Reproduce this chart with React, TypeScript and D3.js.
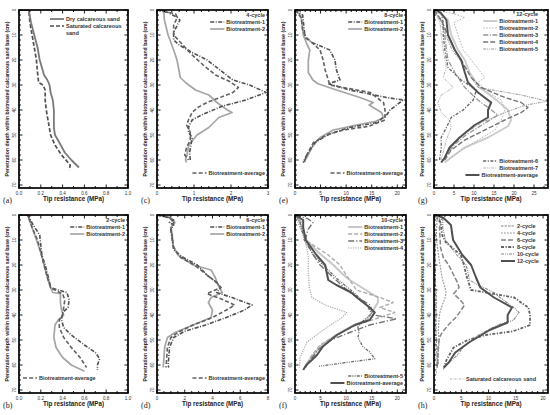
import * as d3 from 'd3';

// each point is [tip resistance (MPa), penetration depth (cm)]
type Pt = [number, number];

// (a) untreated sand
const dryCalc: Pt[] = [[0, 0], [0.09, 0], [0.11, 5], [0.14, 10], [0.17, 15], [0.19, 20], [0.21, 23], [0.23, 26], [0.26, 28], [0.28, 30], [0.29, 33], [0.31, 36], [0.32, 40], [0.32, 47], [0.33, 50], [0.37, 53], [0.42, 57], [0.48, 60], [0.55, 63]];
const satCalc: Pt[] = [[0, 0], [0.09, 0], [0.1, 5], [0.12, 10], [0.14, 15], [0.16, 20], [0.17, 25], [0.18, 29], [0.22, 30], [0.24, 32], [0.24, 36], [0.25, 40], [0.27, 45], [0.29, 50], [0.33, 54], [0.39, 58], [0.45, 61], [0.47, 62], [0.46, 64]];

// (b) 2-cycle
const c2Bio1: Pt[] = [[0, 0], [0.08, 0], [0.13, 4], [0.19, 8], [0.2, 12], [0.21, 16], [0.24, 20], [0.27, 25], [0.29, 29], [0.36, 30], [0.44, 31], [0.46, 34], [0.45, 37], [0.4, 39], [0.39, 42], [0.41, 45], [0.48, 48], [0.6, 52], [0.7, 55], [0.74, 57.5], [0.72, 60], [0.72, 62]];
const c2Bio2: Pt[] = [[0, 0], [0.08, 0], [0.12, 5], [0.16, 10], [0.2, 15], [0.23, 20], [0.26, 25], [0.29, 29], [0.31, 31], [0.38, 31.5], [0.38, 35], [0.39, 38], [0.41, 40], [0.36, 42], [0.33, 44], [0.32, 49], [0.34, 53], [0.4, 57], [0.48, 60], [0.6, 62.5]];
const c2Avg: Pt[] = [[0, 0], [0.08, 0], [0.12, 5], [0.17, 10], [0.2, 15], [0.23, 20], [0.26, 25], [0.29, 29], [0.35, 30.5], [0.4, 31.5], [0.42, 34], [0.41, 37], [0.4, 40], [0.37, 42], [0.37, 45], [0.41, 49], [0.48, 53], [0.56, 57], [0.62, 61]];

// (c) 4-cycle
const c4Bio1: Pt[] = [[0, 0], [0.3, 1], [0.55, 3], [0.62, 4], [0.55, 6], [0.45, 9], [0.45, 12], [0.6, 14], [0.95, 17], [1.36, 20], [1.7, 24], [2.05, 28], [2.5, 30], [2.95, 33], [2.4, 36], [1.76, 38.5], [1.2, 42], [0.95, 44], [0.86, 46.5], [0.85, 49], [0.95, 51], [0.92, 54], [0.88, 57], [0.9, 60]];
const c4Bio2: Pt[] = [[0, 0], [0.18, 0], [0.2, 4], [0.3, 10], [0.45, 16], [0.54, 20], [0.63, 27], [0.77, 29], [1.04, 32], [1.4, 34], [1.62, 37], [1.9, 40], [2.03, 41], [1.67, 43], [1.4, 47], [1.08, 50], [0.86, 54], [0.81, 58], [0.77, 60], [0.8, 61]];
const c4Avg: Pt[] = [[0, 0], [0.5, 1.5], [0.55, 3], [0.45, 6], [0.45, 10], [0.7, 14], [0.95, 18], [1.25, 22], [1.58, 26], [1.95, 28.5], [2.2, 31], [2.05, 33], [1.7, 35], [1.35, 37], [1.1, 39], [0.95, 41], [0.85, 44], [0.8, 46], [0.9, 49], [0.9, 52], [0.8, 55], [0.75, 58], [0.85, 60]];

// (d) 6-cycle
const c6Bio1: Pt[] = [[0, 0], [0.8, 1], [1.2, 2], [0.9, 3], [1.2, 4], [1.0, 6], [1.1, 10], [1.2, 14], [1.9, 17], [2.9, 20], [3.6, 24], [4.3, 27], [4.6, 29], [4.3, 31], [5.4, 33], [6.85, 36], [6.3, 38], [5.0, 41], [3.5, 44], [2.0, 46.5], [1.2, 49], [0.9, 53], [0.85, 57], [0.8, 60], [0.85, 61]];
const c6Bio2: Pt[] = [[0, 0], [1.0, 1], [1.3, 3], [1.0, 5], [1.1, 8], [1.15, 12], [1.5, 16], [2.6, 20], [3.9, 22], [4.2, 25], [4.4, 28], [4.7, 31], [3.9, 33], [3.7, 35], [4.0, 38], [3.9, 41], [2.6, 44], [1.3, 47], [0.75, 49], [0.55, 53], [0.5, 57], [0.45, 61]];
const c6Avg: Pt[] = [[0, 0], [0.9, 1], [1.2, 3], [1.0, 5], [1.1, 9], [1.2, 13], [1.7, 17], [2.7, 20], [3.6, 24], [4.3, 27], [4.6, 29], [3.6, 31.5], [4.6, 33.5], [5.6, 36], [5.0, 38], [4.0, 41], [2.6, 44], [1.5, 47], [1.0, 49], [0.75, 53], [0.7, 57], [0.65, 61]];

// (e) 8-cycle
const c8Bio1: Pt[] = [[0, 0], [1.5, 2], [1.6, 4], [1.8, 8], [2.0, 11], [3.3, 13], [6.8, 16], [7.8, 20], [8.1, 24], [8.8, 28], [6.5, 29.5], [9.0, 31], [10.7, 32], [17.9, 35], [21.2, 36], [20.5, 37], [18.6, 40], [17.9, 42], [16.0, 45], [10.7, 47], [6.8, 49.5], [3.9, 53], [2.3, 58], [1.6, 61]];
const c8Bio2: Pt[] = [[0, 0], [1.0, 2], [1.3, 4], [1.6, 10], [2.4, 14], [2.9, 16], [2.6, 20], [2.6, 25], [3.5, 28], [4.5, 29.5], [8.1, 32], [12.7, 35], [15.3, 37], [14.5, 38], [16.9, 41], [17.3, 43], [15.8, 44.5], [12.0, 46], [7.5, 48], [4.9, 51], [3.3, 55], [2.3, 59], [1.6, 61]];
const c8Avg: Pt[] = [[0, 0], [1.2, 3], [1.5, 8], [2.2, 11], [3.3, 13], [4.9, 16], [5.5, 20], [5.9, 24], [6.5, 28], [6.8, 30], [14.7, 33], [16.6, 36], [17.3, 37], [17.6, 40], [17.6, 44], [14.5, 46.5], [9.5, 48], [6.2, 50], [3.6, 53], [2.3, 58], [1.8, 61]];

// (f) 10-cycle
const c10Bio1: Pt[] = [[0, 0], [0.8, 2], [1.3, 5], [2.2, 10], [4.6, 15], [7.5, 20], [9.5, 24], [10.7, 26], [14.6, 31], [16.2, 33], [16.2, 35], [15.2, 38.5], [14.0, 42], [11.0, 44.5], [8.0, 48], [5.2, 52], [3.5, 56], [2.5, 59], [2.0, 61]];
const c10Bio2: Pt[] = [[0, 0], [1.3, 3], [2.0, 10], [6.5, 16], [8.8, 20], [10.0, 24], [12.0, 30], [16.6, 33], [19.2, 35], [16.6, 37], [19.5, 39], [16.6, 41], [12.0, 44], [8.1, 48], [4.9, 52], [3.0, 57], [1.9, 61]];
const c10Bio3: Pt[] = [[0, 0], [2.5, 1.5], [3.5, 3], [2.5, 6], [2.0, 10], [3.6, 16], [4.9, 20], [7.5, 25], [10.7, 31], [14.7, 36], [15.3, 40], [19.9, 41.5], [14.6, 44], [10.7, 47], [7.0, 50], [4.5, 54], [3.0, 58], [2.0, 61]];
const c10Bio4: Pt[] = [[0, 0], [0.8, 4], [2.0, 10], [2.6, 16], [2.6, 22], [2.8, 29], [3.3, 33], [5.9, 36], [10.1, 39], [9.2, 41], [6.2, 45], [4.2, 48], [2.3, 51], [1.0, 57], [0.9, 61]];
const c10Bio5: Pt[] = [[0, 0], [1.0, 3], [1.8, 10], [3.6, 16], [5.5, 20], [8.5, 26], [11.5, 31], [14.0, 36], [15.0, 39.5], [13.5, 42], [12.3, 44.7], [12.5, 47], [12.3, 49], [13.3, 52.8], [14.6, 54.8], [15.6, 57.5], [10.0, 59], [4.7, 60.5]];
const c10Avg: Pt[] = [[0, 0], [1.6, 2], [1.6, 5], [2.1, 10], [4.2, 16], [5.9, 20], [6.5, 26], [8.1, 28], [11.0, 31], [12.1, 33], [14.6, 37], [15.6, 39], [14.6, 42], [11.7, 44], [8.2, 48], [5.5, 52.5], [4.3, 56], [3.3, 58], [2.2, 60], [1.6, 62]];

// (g) 12-cycle
const c12Bio1: Pt[] = [[0, 0], [2.0, 2], [3.5, 4], [4.3, 10], [6.0, 16], [7.7, 20], [8.9, 25], [11.4, 31], [15.6, 36], [18.5, 40], [19.3, 44], [18.5, 46.5], [13.5, 51], [7.7, 55], [4.3, 59], [2.7, 61]];
const c12Bio2: Pt[] = [[0, 0], [5.0, 1.5], [7.7, 3], [5.0, 5], [6.0, 10], [7.3, 16], [9.3, 20], [12.7, 27], [11.0, 29], [13.5, 33], [16.8, 36], [17.7, 40], [16.8, 44], [15.2, 48], [11.0, 52], [6.8, 56], [3.5, 60]];
const c12Bio3: Pt[] = [[0, 0], [2.0, 5], [2.7, 10], [3.1, 16], [3.5, 20], [5.2, 25], [7.7, 31], [11.0, 36], [14.3, 40], [16.0, 42], [12.0, 46], [8.0, 50], [5.0, 54], [3.0, 58], [2.2, 61]];
const c12Bio4: Pt[] = [[0, 0], [1.8, 4], [3.5, 10], [5.2, 16], [6.8, 20], [9.3, 27], [11.8, 31], [17.7, 35], [21.8, 37], [23.5, 39], [21.8, 41], [17.7, 44], [12.7, 48], [7.7, 52], [4.3, 56], [2.7, 60]];
const c12Bio5: Pt[] = [[0, 0], [2.2, 5], [3.0, 10], [4.5, 16], [6.5, 20], [8.5, 25], [11.0, 31], [21.8, 34], [28.4, 36.5], [23.0, 38], [17.7, 41], [12.0, 45], [7.0, 50], [4.0, 55], [2.5, 60]];
const c12Bio6: Pt[] = [[0, 0], [1.8, 1.3], [2.3, 5], [2.3, 10], [2.7, 16], [3.5, 23], [6.8, 28], [10.6, 32], [9.8, 36], [7.3, 40], [4.3, 43], [3.1, 47], [1.8, 51], [1.8, 55], [1.4, 60]];
const c12Bio7: Pt[] = [[0, 0], [1.5, 5], [1.8, 10], [2.3, 16], [3.1, 23], [2.3, 27], [4.8, 31], [1.8, 34], [1.0, 37], [1.8, 41], [3.9, 44], [4.3, 47], [3.1, 52], [1.8, 60]];
const c12Avg: Pt[] = [[0, 0], [0.6, 0], [1.8, 1.3], [3.1, 4], [3.5, 10], [5.2, 16], [6.8, 20], [7.7, 25], [8.5, 29], [11.0, 33], [14.3, 37], [13.5, 40], [13.5, 43], [10.2, 46], [6.4, 51], [3.9, 55], [2.7, 59], [1.8, 61]];

const depthTicks = [0, 10, 20, 30, 40, 50, 60, 70];
const yTitle = 'Penetration depth within biotreated calcareous sand base (cm)';
const xTitle = 'Tip resistance (MPa)';

type Style = { stroke: string; width: number; dash?: string };
const st = {
  dry: { stroke: '#7a7a7a', width: 1.8 },
  sat: { stroke: '#505050', width: 1.7, dash: '4,2' },
  b1: { stroke: '#505050', width: 1.6, dash: '4,1.5,1,1.5' },
  b2: { stroke: '#a5a5a5', width: 1.7 },
  bAvg: { stroke: '#606060', width: 1.6, dash: '4,2.2' },
  f1: { stroke: '#c6c6c6', width: 1.9 },
  f2: { stroke: '#adadad', width: 1.4, dash: '4,2' },
  f3: { stroke: '#737373', width: 1.4, dash: '6,2,1.2,2' },
  f4: { stroke: '#a8a8a8', width: 1.2, dash: '1.2,1.2' },
  f5: { stroke: '#6c6c6c', width: 1.3, dash: '3,1.2,1,1.2,1,1.2' },
  avgSolid: { stroke: '#505050', width: 2 },
  g1: { stroke: '#cdcdcd', width: 2 },
  g2: { stroke: '#b2b2b2', width: 1, dash: '1.5,1.5' },
  g3: { stroke: '#959595', width: 1.3, dash: '5,1.5,1.2,1.5' },
  g4: { stroke: '#757575', width: 1.4, dash: '5,2' },
  g5: { stroke: '#969696', width: 1, dash: '3,1,1,1,1,1' },
  g6: { stroke: '#656565', width: 1.3, dash: '3,1.5,1.2,1.5' },
  g7: { stroke: '#b5b5b5', width: 1, dash: '3,1,1,1,1,1' },
  h2: { stroke: '#858585', width: 1.1, dash: '2.5,1' },
  h4: { stroke: '#969696', width: 1.1, dash: '1.8,1.2' },
  h6: { stroke: '#858585', width: 1.5, dash: '5,2' },
  h8: { stroke: '#626262', width: 1.8, dash: '3,1.5,1.2,1.5' },
  h10: { stroke: '#858585', width: 1.1, dash: '3,1,1,1,1,1' },
  hSat: { stroke: '#a8a8a8', width: 0.9, dash: '2,1,0.6,1' },
};

type Item = { text: string; style?: Style };
type Legend = { x: number; anchor: 'start' | 'end'; y: number; items: Item[] };
type Panel = {
  tag: string; left: number; right: number; top: number; xMax: number;
  xTicks: number[]; xMinor: number; fmt: (v: number) => string;
  series: { data: Pt[]; style: Style }[]; legends: Legend[];
};

const TOP = [10, 215];
const H = 178;

const panels: Panel[] = [
  {
    tag: '(a)', left: 19, right: 128, top: TOP[0], xMax: 1, xTicks: [0, 0.2, 0.4, 0.6, 0.8, 1], xMinor: 0.1, fmt: d3.format('.1f'),
    series: [{ data: satCalc, style: st.sat }, { data: dryCalc, style: st.dry }],
    legends: [{ x: 66, anchor: 'start', y: 19, items: [{ text: 'Dry calcareous sand', style: st.dry }, { text: 'Saturated calcareous', style: st.sat }, { text: 'sand' }] }],
  },
  {
    tag: '(b)', left: 19, right: 128, top: TOP[1], xMax: 1, xTicks: [0, 0.2, 0.4, 0.6, 0.8, 1], xMinor: 0.1, fmt: d3.format('.1f'),
    series: [{ data: c2Bio2, style: st.b2 }, { data: c2Bio1, style: st.b1 }, { data: c2Avg, style: st.bAvg }],
    legends: [
      { x: 125, anchor: 'end', y: 220, items: [{ text: '2-cycle' }, { text: 'Biotreatment-1', style: st.b1 }, { text: 'Biotreatment-2', style: st.b2 }] },
      { x: 39, anchor: 'start', y: 378, items: [{ text: 'Biotreatment-average', style: st.bAvg }] },
    ],
  },
  {
    tag: '(c)', left: 157, right: 268, top: TOP[0], xMax: 3, xTicks: [0, 1, 2, 3], xMinor: 0.2, fmt: d3.format('d'),
    series: [{ data: c4Bio2, style: st.b2 }, { data: c4Bio1, style: st.b1 }, { data: c4Avg, style: st.bAvg }],
    legends: [
      { x: 265, anchor: 'end', y: 15, items: [{ text: '4-cycle' }, { text: 'Biotreatment-1', style: st.b1 }, { text: 'Biotreatment-2', style: st.b2 }] },
      { x: 265, anchor: 'end', y: 173, items: [{ text: 'Biotreatment-average', style: st.bAvg }] },
    ],
  },
  {
    tag: '(d)', left: 157, right: 268, top: TOP[1], xMax: 8, xTicks: [0, 2, 4, 6, 8], xMinor: 0.5, fmt: d3.format('d'),
    series: [{ data: c6Bio2, style: st.b2 }, { data: c6Bio1, style: st.b1 }, { data: c6Avg, style: st.bAvg }],
    legends: [
      { x: 265, anchor: 'end', y: 220, items: [{ text: '6-cycle' }, { text: 'Biotreatment-1', style: st.b1 }, { text: 'Biotreatment-2', style: st.b2 }] },
      { x: 265, anchor: 'end', y: 378, items: [{ text: 'Biotreatment-average', style: st.bAvg }] },
    ],
  },
  {
    tag: '(e)', left: 295, right: 406, top: TOP[0], xMax: 21.7, xTicks: [0, 5, 10, 15, 20], xMinor: 1, fmt: d3.format('d'),
    series: [{ data: c8Bio2, style: st.b2 }, { data: c8Bio1, style: st.b1 }, { data: c8Avg, style: st.bAvg }],
    legends: [
      { x: 403, anchor: 'end', y: 15, items: [{ text: '8-cycle' }, { text: 'Biotreatment-1', style: st.b1 }, { text: 'Biotreatment-2', style: st.b2 }] },
      { x: 403, anchor: 'end', y: 173, items: [{ text: 'Biotreatment-average', style: st.bAvg }] },
    ],
  },
  {
    tag: '(f)', left: 295, right: 406, top: TOP[1], xMax: 21.7, xTicks: [0, 5, 10, 15, 20], xMinor: 1, fmt: d3.format('d'),
    series: [
      { data: c10Bio4, style: st.f4 }, { data: c10Bio1, style: st.f1 }, { data: c10Bio2, style: st.f2 },
      { data: c10Bio3, style: st.f3 }, { data: c10Bio5, style: st.f5 }, { data: c10Avg, style: st.avgSolid },
    ],
    legends: [
      { x: 403, anchor: 'end', y: 220, items: [{ text: '10-cycle' }, { text: 'Biotreatment-1', style: st.f1 }, { text: 'Biotreatment-2', style: st.f2 }, { text: 'Biotreatment-3', style: st.f3 }, { text: 'Biotreatment-4', style: st.f4 }] },
      { x: 403, anchor: 'end', y: 376, items: [{ text: 'Biotreatment-5', style: st.f5 }, { text: 'Biotreatment-average', style: st.avgSolid }] },
    ],
  },
  {
    tag: '(g)', left: 434, right: 548, top: TOP[0], xMax: 28.5, xTicks: [0, 5, 10, 15, 20, 25], xMinor: 2.5, fmt: d3.format('d'),
    series: [
      { data: c12Bio7, style: st.g7 }, { data: c12Bio1, style: st.g1 }, { data: c12Bio2, style: st.g2 }, { data: c12Bio5, style: st.g5 },
      { data: c12Bio3, style: st.g3 }, { data: c12Bio4, style: st.g4 }, { data: c12Bio6, style: st.g6 }, { data: c12Avg, style: st.avgSolid },
    ],
    legends: [
      { x: 538, anchor: 'end', y: 14, items: [{ text: '12-cycle' }, { text: 'Biotreatment-1', style: st.g1 }, { text: 'Biotreatment-2', style: st.g2 }, { text: 'Biotreatment-3', style: st.g3 }, { text: 'Biotreatment-4', style: st.g4 }, { text: 'Biotreatment-5', style: st.g5 }] },
      { x: 538, anchor: 'end', y: 161, items: [{ text: 'Biotreatment-6', style: st.g6 }, { text: 'Biotreatment-7', style: st.g7 }, { text: 'Biotreatment-average', style: st.avgSolid }] },
    ],
  },
  {
    tag: '(h)', left: 434, right: 548, top: TOP[1], xMax: 20.9, xTicks: [0, 5, 10, 15, 20], xMinor: 1, fmt: d3.format('d'),
    series: [
      { data: satCalc, style: st.hSat }, { data: c2Avg, style: st.h2 }, { data: c4Avg, style: st.h4 }, { data: c6Avg, style: st.h6 },
      { data: c10Avg, style: st.h10 }, { data: c8Avg, style: st.h8 }, { data: c12Avg, style: st.avgSolid },
    ],
    legends: [
      { x: 517, anchor: 'start', y: 226, items: [{ text: '2-cycle', style: st.h2 }, { text: '4-cycle', style: st.h4 }, { text: '6-cycle', style: st.h6 }, { text: '8-cycle', style: st.h8 }, { text: '10-cycle', style: st.h10 }, { text: '12-cycle', style: st.avgSolid }] },
      { x: 466, anchor: 'start', y: 379, items: [{ text: 'Saturated calcareous sand', style: st.hSat }] },
    ],
  },
];

const SANS = 'Liberation Sans, Arial, sans-serif';
const LEG_FONT = 5.5;

let ctx: CanvasRenderingContext2D | null = null;
function textWidth(t: string) {
  if (!ctx) ctx = document.createElement('canvas').getContext('2d');
  if (!ctx) return t.length * 3;
  ctx.font = `bold ${LEG_FONT}px "Liberation Sans", Arial, sans-serif`;
  return ctx.measureText(t).width;
}

function PanelChart({ p }: { p: Panel }) {
  const bottom = p.top + H;
  const x = d3.scaleLinear().domain([0, p.xMax]).range([p.left, p.right]);
  const y = d3.scaleLinear().domain([0, 71.2]).range([p.top, bottom]);
  const line = d3.line<Pt>().x(d => x(d[0])).y(d => y(d[1]));
  const clipId = 'clip' + p.tag.replace(/\W/g, '');
  const xMinorTicks = d3.range(0, p.xMax + 1e-6, p.xMinor);
  const yMinorTicks = d3.range(0, 71, 2);
  const cx = (p.left + p.right) / 2;
  const cy = (p.top + bottom) / 2;

  return (
    <g>
      <defs>
        <clipPath id={clipId}><rect x={p.left} y={p.top} width={p.right - p.left} height={H} /></clipPath>
      </defs>
      <g clipPath={`url(#${clipId})`}>
        {p.series.map((s, i) => (
          <path key={i} d={line(s.data) || ''} fill="none" stroke={s.style.stroke} strokeWidth={s.style.width}
            strokeDasharray={s.style.dash} strokeLinejoin="round" />
        ))}
      </g>
      {/* ticks on all four sides, pointing in */}
      {xMinorTicks.map((v, i) => {
        const major = p.xTicks.some(t => Math.abs(t - v) < 1e-6);
        const len = major ? 3.5 : 2;
        return (
          <g key={'xt' + i} stroke="#000" strokeWidth={0.9}>
            <line x1={x(v)} x2={x(v)} y1={bottom} y2={bottom - len} />
            <line x1={x(v)} x2={x(v)} y1={p.top} y2={p.top + len} />
          </g>
        );
      })}
      {yMinorTicks.map((v, i) => {
        const len = v % 10 === 0 ? 3.5 : 2;
        return (
          <g key={'yt' + i} stroke="#000" strokeWidth={0.9}>
            <line x1={p.left} x2={p.left + len} y1={y(v)} y2={y(v)} />
            <line x1={p.right} x2={p.right - len} y1={y(v)} y2={y(v)} />
          </g>
        );
      })}
      <rect x={p.left} y={p.top} width={p.right - p.left} height={H} fill="none" stroke="#000" strokeWidth={1.7} />
      {p.xTicks.map(v => (
        <text key={'xl' + v} x={x(v)} y={bottom + 6.5} fontSize={4.6} textAnchor="middle" fill="#333" fontFamily={SANS}>{p.fmt(v)}</text>
      ))}
      {depthTicks.map(v => (
        <text key={'yl' + v} transform={`translate(${p.left - 3},${y(v)}) rotate(-90)`} fontSize={4.6} textAnchor="middle" fill="#333" fontFamily={SANS}>{v}</text>
      ))}
      <text x={cx} y={bottom + 13} fontSize={6.3} fontWeight="bold" textAnchor="middle" fill="#222" fontFamily={SANS}>{xTitle}</text>
      <text transform={`translate(${p.left - 10},${cy}) rotate(-90)`} fontSize={5.2} fontWeight="bold" textAnchor="middle" fill="#222" fontFamily={SANS}>{yTitle}</text>
      <text x={p.left - 16} y={bottom + 15} fontSize={8} fill="#222" fontFamily="Liberation Serif, Times New Roman, serif">{p.tag}</text>
      {p.legends.map((lg, li) => (
        <g key={'lg' + li}>
          {lg.items.map((it, ii) => {
            const yy = lg.y + ii * 7;
            const w = textWidth(it.text);
            const start = lg.anchor === 'start' ? lg.x : lg.x - w;
            return (
              <g key={ii}>
                {it.style && (
                  <line x1={start - 16} x2={start - 2} y1={yy} y2={yy} stroke={it.style.stroke}
                    strokeWidth={it.style.width} strokeDasharray={it.style.dash} />
                )}
                <text x={lg.x} y={yy} dy="0.35em" fontSize={LEG_FONT} fontWeight="bold" textAnchor={lg.anchor}
                  fill="#333" fontFamily={SANS}>{it.text}</text>
              </g>
            );
          })}
        </g>
      ))}
    </g>
  );
}

export default function App() {
  return (
    <svg width={550} height={415} viewBox="0 0 550 415" style={{ position: 'absolute', left: 0, top: 0, background: '#fff' }}>
      <rect width={550} height={415} fill="#fff" />
      {panels.map(p => <PanelChart key={p.tag} p={p} />)}
    </svg>
  );
}
